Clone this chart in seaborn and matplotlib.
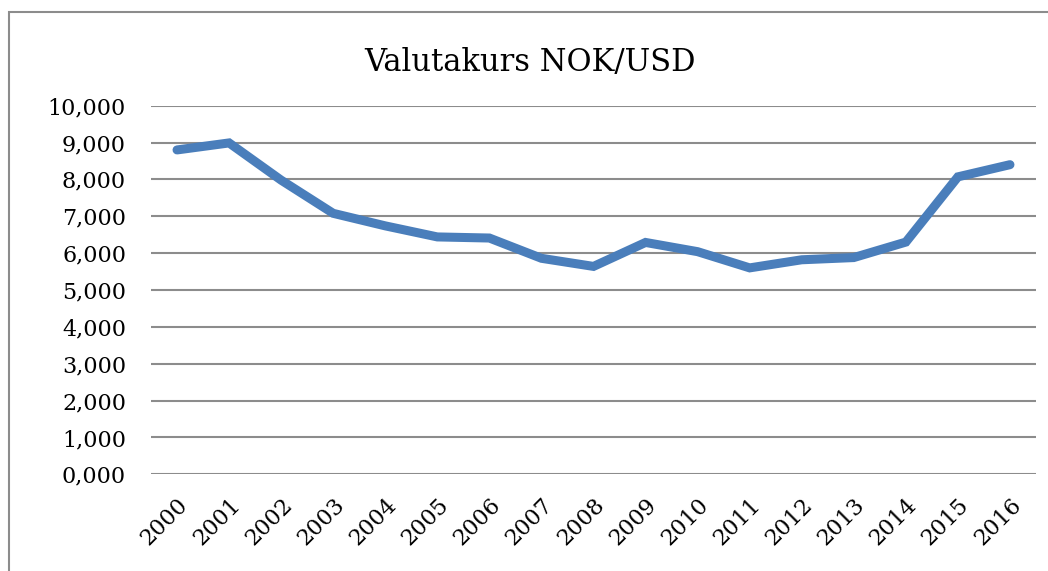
import matplotlib
matplotlib.use("Agg")
import matplotlib.pyplot as plt
import seaborn as sns
import pandas as pd
from matplotlib.patches import Rectangle

years = [2000, 2001, 2002, 2003, 2004, 2005, 2006, 2007, 2008,
         2009, 2010, 2011, 2012, 2013, 2014, 2015, 2016]
rates = [8.80, 8.99, 7.98, 7.08, 6.74, 6.44, 6.41, 5.86, 5.64,
         6.29, 6.04, 5.60, 5.82, 5.88, 6.30, 8.07, 8.40]
y_ticks = [0, 1, 2, 3, 4, 5, 6, 7, 8, 9, 10]
title = "Valutakurs NOK/USD"

df = pd.DataFrame({"year": years, "rate": rates})

sns.set_theme(style="white")
plt.rcParams["font.family"] = ["DejaVu Serif"]

fig = plt.figure(figsize=(10.48, 5.71), dpi=100)
ax = fig.add_axes([151 / 1048, 1 - 474.3 / 571, (1036 - 151) / 1048, (474.3 - 105.7) / 571])

sns.lineplot(data=df, x="year", y="rate", ax=ax, color="#4a7ebb",
             linewidth=6.5, solid_capstyle="round", solid_joinstyle="miter", zorder=3)

ax.set_xlim(years[0] - 0.5, years[-1] + 0.5)
ax.set_ylim(0, 10)
ax.set_yticks(y_ticks)
ax.set_yticklabels([f"{v:.3f}".replace(".", ",") for v in y_ticks], fontsize=16, color="#000000")
ax.set_xticks(years)
ax.set_xticklabels([str(y) for y in years], rotation=45, ha="right",
                   rotation_mode="anchor", fontsize=16, color="#000000")
ax.tick_params(axis="x", length=0, pad=14)
ax.tick_params(axis="y", length=0, pad=18)
ax.set_xlabel("")
ax.set_ylabel("")
ax.grid(axis="y", color="#8c8c8c", linewidth=1.5)
ax.set_axisbelow(True)
for s in ax.spines.values():
    s.set_visible(False)

fig.text(530 / 1048, 1 - 71 / 571, title, ha="center", va="baseline",
         fontsize=22, color="#000000")

border = Rectangle((9 / 1048, -0.1), 1.2, (571 - 12) / 571 + 0.1, transform=fig.transFigure,
                   fill=False, edgecolor="#8c8c8c", linewidth=1.5, clip_on=False)
fig.patches.append(border)

fig.savefig("out.png", dpi=100, facecolor="white")
